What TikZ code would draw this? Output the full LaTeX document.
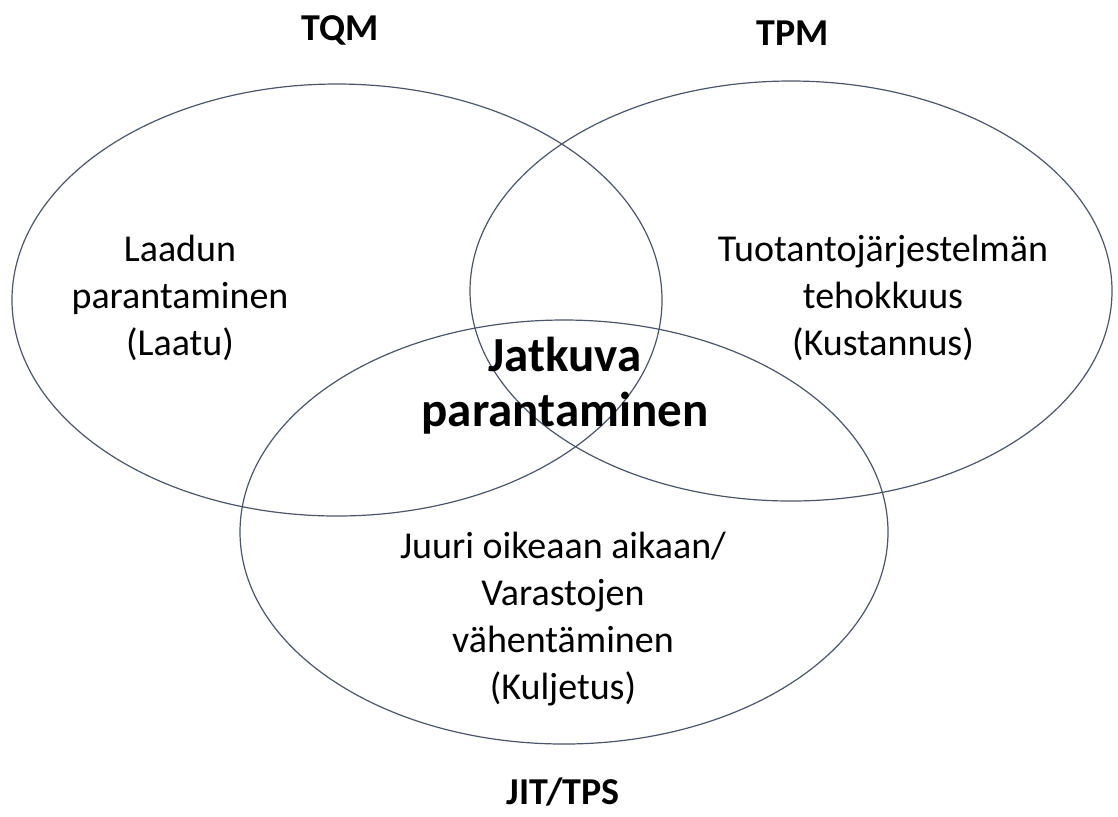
\documentclass[tikz,border=0pt]{standalone}
\usepackage{fontspec}
\setmainfont{Carlito}
\begin{document}
\begin{tikzpicture}[x=0.5pt,y=-0.5pt,
  ring/.style={draw={rgb,255:red,75;green,85;blue,105}, line width=0.6pt},
  lbl/.style={align=center, inner sep=0pt, font=\fontsize{19}{23.6}\selectfont},
  ttl/.style={inner sep=0pt, font=\fontsize{19}{22}\selectfont\bfseries},
  core/.style={align=center, inner sep=0pt, font=\fontsize{24.5}{27.5}\selectfont\bfseries}]
\useasboundingbox (0,0) rectangle (1118,816);
\draw[ring] (337,300) ellipse [x radius=325, y radius=216];
\draw[ring] (791,291) ellipse [x radius=321, y radius=210];
\draw[ring] (564,532) ellipse [x radius=324, y radius=212];
\node[ttl] (tqm) at (340,30) {TQM};
\node[ttl] (tpm) at (793,33) {TPM};
\node[ttl] (jit) at (563,792) {JIT/TPS};
\node[lbl] (laatu) at (180,298) {Laadun\\parantaminen\\(Laatu)};
\node[lbl] (kust) at (883,298) {Tuotantojärjestelmän\\tehokkuus\\(Kustannus)};
\node[core] (jp) at (565,386) {Jatkuva\\parantaminen};
\node[lbl] (kulj) at (563,619) {Juuri oikeaan aikaan/\\Varastojen\\vähentäminen\\(Kuljetus)};
\end{tikzpicture}
\end{document}
